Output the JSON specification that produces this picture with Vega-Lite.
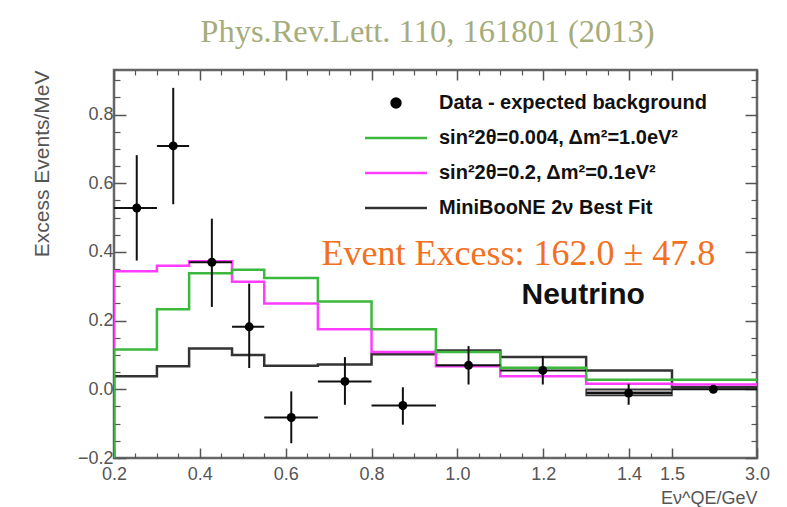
{
  "$schema": "https://vega.github.io/schema/vega-lite/v6.json",
  "width": 643,
  "height": 388,
  "autosize": {"type": "none"},
  "padding": {"left": 114, "top": 70, "right": 30, "bottom": 49},
  "background": "white",
  "title": {"text": "Phys.Rev.Lett. 110, 161801 (2013)", "font": "Liberation Serif", "fontSize": 32.5, "fontWeight": "normal", "color": "#a6ac7a", "anchor": "middle", "baseline": "alphabetic", "offset": -5, "dx": -8},
  "config": {"view": {"stroke": "#666", "strokeWidth": 2.5}},
  "datasets": {
    "hist": [
      {"series": "MiniBooNE 2ν Best Fit", "E": 0.2, "v": -0.2},
      {"series": "MiniBooNE 2ν Best Fit", "E": 0.2, "v": 0.038},
      {"series": "MiniBooNE 2ν Best Fit", "E": 0.3, "v": 0.067},
      {"series": "MiniBooNE 2ν Best Fit", "E": 0.375, "v": 0.119},
      {"series": "MiniBooNE 2ν Best Fit", "E": 0.475, "v": 0.1},
      {"series": "MiniBooNE 2ν Best Fit", "E": 0.55, "v": 0.069},
      {"series": "MiniBooNE 2ν Best Fit", "E": 0.675, "v": 0.072},
      {"series": "MiniBooNE 2ν Best Fit", "E": 0.8, "v": 0.102},
      {"series": "MiniBooNE 2ν Best Fit", "E": 0.95, "v": 0.113},
      {"series": "MiniBooNE 2ν Best Fit", "E": 1.1, "v": 0.094},
      {"series": "MiniBooNE 2ν Best Fit", "E": 1.3, "v": 0.055},
      {"series": "MiniBooNE 2ν Best Fit", "E": 1.5, "v": 0.006},
      {"series": "MiniBooNE 2ν Best Fit", "E": 3.0, "v": 0.006},
      {"series": "sin²2θ=0.2, Δm²=0.1eV²", "E": 0.2, "v": -0.2},
      {"series": "sin²2θ=0.2, Δm²=0.1eV²", "E": 0.2, "v": 0.344},
      {"series": "sin²2θ=0.2, Δm²=0.1eV²", "E": 0.3, "v": 0.36},
      {"series": "sin²2θ=0.2, Δm²=0.1eV²", "E": 0.375, "v": 0.373},
      {"series": "sin²2θ=0.2, Δm²=0.1eV²", "E": 0.475, "v": 0.313},
      {"series": "sin²2θ=0.2, Δm²=0.1eV²", "E": 0.55, "v": 0.25},
      {"series": "sin²2θ=0.2, Δm²=0.1eV²", "E": 0.675, "v": 0.175},
      {"series": "sin²2θ=0.2, Δm²=0.1eV²", "E": 0.8, "v": 0.109},
      {"series": "sin²2θ=0.2, Δm²=0.1eV²", "E": 0.95, "v": 0.067},
      {"series": "sin²2θ=0.2, Δm²=0.1eV²", "E": 1.1, "v": 0.038},
      {"series": "sin²2θ=0.2, Δm²=0.1eV²", "E": 1.3, "v": 0.016},
      {"series": "sin²2θ=0.2, Δm²=0.1eV²", "E": 1.5, "v": 0.014},
      {"series": "sin²2θ=0.2, Δm²=0.1eV²", "E": 3.0, "v": 0.014},
      {"series": "sin²2θ=0.004, Δm²=1.0eV²", "E": 0.2, "v": -0.2},
      {"series": "sin²2θ=0.004, Δm²=1.0eV²", "E": 0.2, "v": 0.116},
      {"series": "sin²2θ=0.004, Δm²=1.0eV²", "E": 0.3, "v": 0.233},
      {"series": "sin²2θ=0.004, Δm²=1.0eV²", "E": 0.375, "v": 0.338},
      {"series": "sin²2θ=0.004, Δm²=1.0eV²", "E": 0.475, "v": 0.348},
      {"series": "sin²2θ=0.004, Δm²=1.0eV²", "E": 0.55, "v": 0.324},
      {"series": "sin²2θ=0.004, Δm²=1.0eV²", "E": 0.675, "v": 0.256},
      {"series": "sin²2θ=0.004, Δm²=1.0eV²", "E": 0.8, "v": 0.175},
      {"series": "sin²2θ=0.004, Δm²=1.0eV²", "E": 0.95, "v": 0.109},
      {"series": "sin²2θ=0.004, Δm²=1.0eV²", "E": 1.1, "v": 0.063},
      {"series": "sin²2θ=0.004, Δm²=1.0eV²", "E": 1.3, "v": 0.028},
      {"series": "sin²2θ=0.004, Δm²=1.0eV²", "E": 1.5, "v": 0.028},
      {"series": "sin²2θ=0.004, Δm²=1.0eV²", "E": 3.0, "v": 0.028}
    ],
    "pts": [
      {"series": "Data - expected background", "E": 0.253, "v": 0.528, "Elo": 0.2, "Ehi": 0.3, "vlo": 0.375, "vhi": 0.682},
      {"series": "Data - expected background", "E": 0.338, "v": 0.709, "Elo": 0.3, "Ehi": 0.375, "vlo": 0.539, "vhi": 0.878},
      {"series": "Data - expected background", "E": 0.428, "v": 0.37, "Elo": 0.375, "Ehi": 0.475, "vlo": 0.24, "vhi": 0.497},
      {"series": "Data - expected background", "E": 0.515, "v": 0.182, "Elo": 0.475, "Ehi": 0.55, "vlo": 0.062, "vhi": 0.308},
      {"series": "Data - expected background", "E": 0.613, "v": -0.082, "Elo": 0.55, "Ehi": 0.675, "vlo": -0.157, "vhi": -0.006},
      {"series": "Data - expected background", "E": 0.738, "v": 0.023, "Elo": 0.675, "Ehi": 0.8, "vlo": -0.045, "vhi": 0.094},
      {"series": "Data - expected background", "E": 0.873, "v": -0.047, "Elo": 0.8, "Ehi": 0.95, "vlo": -0.103, "vhi": 0.006},
      {"series": "Data - expected background", "E": 1.026, "v": 0.07, "Elo": 0.95, "Ehi": 1.1, "vlo": 0.014, "vhi": 0.126},
      {"series": "Data - expected background", "E": 1.199, "v": 0.055, "Elo": 1.1, "Ehi": 1.3, "vlo": 0.014, "vhi": 0.097},
      {"series": "Data - expected background", "E": 1.399, "v": -0.011, "Elo": 1.3, "Ehi": 1.5, "vlo": -0.045, "vhi": 0.016},
      {"series": "Data - expected background", "E": 2.23, "v": 0.0, "Elo": 1.5, "Ehi": 3.0, "vlo": -0.01, "vhi": 0.012}
    ]
  },
  "layer": [
    {
      "data": {"values": [{"E": 1.3, "E2": 1.5, "lo": -0.018, "hi": 0.0}]},
      "mark": {"type": "rect", "fill": "#999999", "stroke": "#333333", "strokeWidth": 1.5},
      "encoding": {
        "x": {"field": "E", "type": "quantitative", "axis": null, "scale": {"domain": [0.2, 1.5, 3.0], "range": [0, 558, 643], "nice": false, "zero": false}},
        "x2": {"field": "E2"},
        "y": {"field": "lo", "type": "quantitative", "axis": null, "scale": {"domain": [-0.2, 0.93], "nice": false, "zero": false}},
        "y2": {"field": "hi"}
      }
    },
    {
      "data": {"name": "hist"},
      "mark": {"type": "line", "interpolate": "step-after", "strokeWidth": 2.5, "clip": true},
      "encoding": {
        "x": {"field": "E", "type": "quantitative",
          "axis": {"values": [0.2, 0.4, 0.6, 0.8, 1.0, 1.2, 1.4, 1.5, 3.0], "format": ".1f", "domain": false, "grid": false, "tickSize": -10, "tickColor": "#555", "tickWidth": 1.5, "labelFont": "Liberation Sans", "labelFontSize": 18, "labelColor": "#555", "labelPadding": 17, "labelFlush": false, "labelOverlap": false, "title": "Eν^QE/GeV", "titleAnchor": "end", "titleFont": "Liberation Sans", "titleFontSize": 18, "titleFontWeight": "normal", "titleColor": "#555", "titlePadding": 6}},
        "y": {"field": "v", "type": "quantitative",
          "axis": {"values": [-0.2, 0, 0.2, 0.4, 0.6, 0.8], "format": ".1f", "domain": false, "grid": false, "tickSize": -12, "tickColor": "#555", "tickWidth": 1.5, "labelFont": "Liberation Sans", "labelFontSize": 18, "labelColor": "#555", "labelPadding": 13, "labelFlush": false, "labelOverlap": false, "title": "Excess Events/MeV", "titleAnchor": "end", "titleFont": "Liberation Sans", "titleFontSize": 21, "titleFontWeight": "normal", "titleColor": "#555", "titlePadding": 25}},
        "color": {"field": "series", "type": "nominal",
          "scale": {"domain": ["Data - expected background", "sin²2θ=0.004, Δm²=1.0eV²", "sin²2θ=0.2, Δm²=0.1eV²", "MiniBooNE 2ν Best Fit"], "range": ["#000000", "#3cb83c", "#ff3cff", "#333333"]},
          "legend": {"orient": "none", "legendX": 251, "legendY": 23, "title": null, "padding": 0, "labelFont": "Liberation Sans", "labelFontWeight": "bold", "labelFontSize": 20, "labelColor": "#111", "labelLimit": 0, "symbolType": "M-4,0H4", "symbolSize": 240, "symbolStrokeWidth": 2.5, "labelOffset": 33, "symbolOffset": 21, "rowPadding": 15,
            "encode": {"symbols": {"update": {
              "shape": {"signal": "datum.value === 'Data - expected background' ? 'circle' : 'M-4,0H4'"},
              "size": {"signal": "datum.value === 'Data - expected background' ? 80 : 240"},
              "fill": {"signal": "datum.value === 'Data - expected background' ? '#000' : 'transparent'"}
            }}}}},
        "order": {"value": null}
      }
    },
    {
      "mark": {"type": "rule", "color": "#111", "strokeWidth": 1.5},
      "encoding": {"y": {"datum": 0, "type": "quantitative", "axis": null}}
    },
    {
      "data": {"name": "pts"},
      "mark": {"type": "rule", "color": "#111", "strokeWidth": 2},
      "encoding": {
        "x": {"field": "Elo", "type": "quantitative", "axis": null},
        "x2": {"field": "Ehi"},
        "y": {"field": "v", "type": "quantitative", "axis": null}
      }
    },
    {
      "data": {"name": "pts"},
      "mark": {"type": "rule", "color": "#111", "strokeWidth": 2},
      "encoding": {
        "x": {"field": "E", "type": "quantitative", "axis": null},
        "y": {"field": "vlo", "type": "quantitative", "axis": null},
        "y2": {"field": "vhi"}
      }
    },
    {
      "data": {"name": "pts"},
      "mark": {"type": "point", "filled": true, "size": 80, "opacity": 1},
      "encoding": {
        "x": {"field": "E", "type": "quantitative", "axis": null},
        "y": {"field": "v", "type": "quantitative", "axis": null},
        "color": {"field": "series", "type": "nominal"}
      }
    },
    {
      "data": {"values": [{"label": "Event Excess: 162.0 ± 47.8", "E": 1.142, "v": 0.363}]},
      "mark": {"type": "text", "font": "Liberation Serif", "fontSize": 36, "color": "#f37021", "align": "center", "baseline": "alphabetic"},
      "encoding": {
        "x": {"field": "E", "type": "quantitative", "axis": null},
        "y": {"field": "v", "type": "quantitative", "axis": null},
        "text": {"field": "label"}
      }
    },
    {
      "data": {"values": [{"label": "Neutrino", "E": 1.293, "v": 0.249}]},
      "mark": {"type": "text", "font": "Liberation Sans", "fontWeight": "bold", "fontSize": 30, "color": "#111", "align": "center", "baseline": "alphabetic"},
      "encoding": {
        "x": {"field": "E", "type": "quantitative", "axis": null},
        "y": {"field": "v", "type": "quantitative", "axis": null},
        "text": {"field": "label"}
      }
    },
    {
      "data": {"name": "pts"},
      "mark": {"type": "point", "opacity": 0},
      "encoding": {
        "x": {"field": "E", "type": "quantitative", "axis": {"orient": "top", "values": [0.2, 0.4, 0.6, 0.8, 1.0, 1.2, 1.4, 1.5, 3.0], "labels": false, "domain": false, "grid": false, "tickSize": -10, "tickColor": "#555", "tickWidth": 1.5, "title": null}},
        "y": {"field": "v", "type": "quantitative", "axis": {"orient": "right", "values": [-0.2, 0, 0.2, 0.4, 0.6, 0.8], "labels": false, "domain": false, "grid": false, "tickSize": -12, "tickColor": "#555", "tickWidth": 1.5, "title": null}}
      }
    },
    {
      "data": {"name": "pts"},
      "mark": {"type": "point", "opacity": 0},
      "encoding": {
        "x": {"field": "E", "type": "quantitative", "axis": {"orient": "bottom", "values": [0.25, 0.3, 0.35, 0.45, 0.5, 0.55, 0.65, 0.7, 0.75, 0.85, 0.9, 0.95, 1.05, 1.1, 1.15, 1.25, 1.3, 1.35, 1.45], "labels": false, "domain": false, "grid": false, "tickSize": -5, "tickColor": "#555", "tickWidth": 1.2, "title": null}},
        "y": {"field": "v", "type": "quantitative", "axis": {"orient": "left", "values": [-0.15, -0.1, -0.05, 0.05, 0.1, 0.15, 0.25, 0.3, 0.35, 0.45, 0.5, 0.55, 0.65, 0.7, 0.75, 0.85, 0.9], "labels": false, "domain": false, "grid": false, "tickSize": -6, "tickColor": "#555", "tickWidth": 1.2, "title": null}}
      }
    },
    {
      "data": {"name": "pts"},
      "mark": {"type": "point", "opacity": 0},
      "encoding": {
        "x": {"field": "E", "type": "quantitative", "axis": {"orient": "top", "values": [0.25, 0.3, 0.35, 0.45, 0.5, 0.55, 0.65, 0.7, 0.75, 0.85, 0.9, 0.95, 1.05, 1.1, 1.15, 1.25, 1.3, 1.35, 1.45], "labels": false, "domain": false, "grid": false, "tickSize": -5, "tickColor": "#555", "tickWidth": 1.2, "title": null}},
        "y": {"field": "v", "type": "quantitative", "axis": {"orient": "right", "values": [-0.15, -0.1, -0.05, 0.05, 0.1, 0.15, 0.25, 0.3, 0.35, 0.45, 0.5, 0.55, 0.65, 0.7, 0.75, 0.85, 0.9], "labels": false, "domain": false, "grid": false, "tickSize": -6, "tickColor": "#555", "tickWidth": 1.2, "title": null}}
      }
    }
  ],
  "resolve": {"axis": {"x": "independent", "y": "independent"}}
}
